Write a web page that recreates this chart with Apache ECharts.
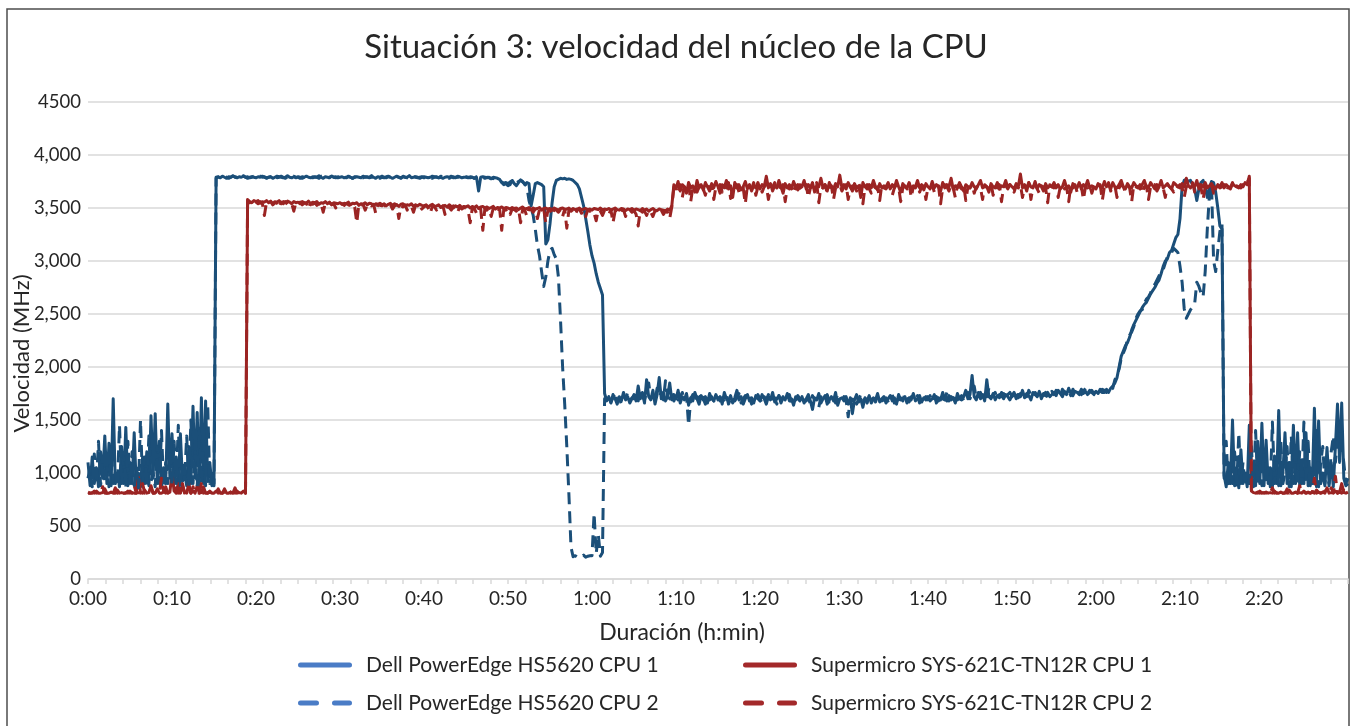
<!DOCTYPE html>
<html>
<head>
<meta charset="utf-8">
<script src="https://cdn.jsdelivr.net/npm/echarts@6/dist/echarts.min.js"></script>
<style>
  html, body { margin: 0; padding: 0; background: #fff; }
  #chart { width: 1352px; height: 726px; }
</style>
</head>
<body>
<div id="chart"></div>
<script>
// one sample every 15 s, x axis in minutes
const STEP = 0.25;

const xLabels = ['0:00', '0:10', '0:20', '0:30', '0:40', '0:50', '1:00', '1:10',
  '1:20', '1:30', '1:40', '1:50', '2:00', '2:10', '2:20'];
const yLabels = ['0', '500', '1,000', '1,500', '2,000', '2,500', '3,000', '3,500', '4,000', '4500'];

const seriesNames = [
  'Dell PowerEdge HS5620 CPU 1',
  'Supermicro SYS-621C-TN12R CPU 1',
  'Dell PowerEdge HS5620 CPU 2',
  'Supermicro SYS-621C-TN12R CPU 2'
];

const dellCpu1 = [
  1100, 880, 1150, 900, 1050, 870, 1200, 950, 1350, 900, 1280, 880, 1700, 900, 1000, 870, 1250, 900, 1430, 880,
  1100, 900, 1380, 880, 1000, 870, 1150, 900, 1200, 880, 1540, 950, 1560, 900, 1300, 870, 1050, 900, 1650, 950,
  1370, 900, 1150, 880, 1370, 920, 1000, 880, 1250, 900, 1630, 950, 1570, 880, 1710, 900, 1680, 920, 1100, 880,
  900, 3790, 3795, 3785, 3800, 3790, 3780, 3795, 3790, 3805, 3790, 3785, 3795, 3790, 3800, 3790, 3780, 3790, 3795, 3790,
  3785, 3795, 3790, 3800, 3790, 3785, 3790, 3795, 3780, 3790, 3800, 3795, 3790, 3785, 3790, 3805, 3790, 3785, 3795, 3790,
  3790, 3780, 3795, 3790, 3800, 3790, 3785, 3795, 3790, 3790, 3805, 3790, 3780, 3795, 3790, 3785, 3800, 3790, 3795, 3785,
  3790, 3795, 3785, 3790, 3800, 3790, 3780, 3790, 3795, 3790, 3785, 3800, 3790, 3795, 3785, 3790, 3790, 3780, 3795, 3790,
  3800, 3790, 3785, 3795, 3790, 3780, 3790, 3800, 3790, 3785, 3795, 3790, 3790, 3805, 3785, 3790, 3795, 3790, 3780, 3790,
  3795, 3790, 3785, 3790, 3800, 3790, 3795, 3785, 3790, 3780, 3790, 3795, 3790, 3800, 3785, 3790, 3790, 3795, 3785, 3790,
  3790, 3785, 3795, 3790, 3780, 3790, 3660, 3790, 3795, 3790, 3785, 3790, 3780, 3790, 3785, 3780, 3770, 3740, 3720, 3730,
  3710, 3720, 3760, 3730, 3710, 3740, 3765, 3750, 3720, 3740, 3730, 3520, 3620, 3730, 3740, 3730, 3720, 3700, 3160, 3200,
  3350, 3550, 3700, 3760, 3770, 3780, 3775, 3780, 3770, 3775, 3770, 3760, 3740, 3720, 3680, 3600, 3520, 3400, 3280, 3150,
  3050, 2980, 2880, 2800, 2740, 2680, 1750, 1680, 1720, 1660, 1740, 1700, 1650, 1720, 1680, 1760, 1690, 1720, 1660, 1700,
  1740, 1680, 1820, 1700, 1760, 1660, 1880, 1720, 1690, 1780, 1650, 1740, 1900, 1700, 1760, 1680, 1720, 1850, 1690, 1740,
  1700, 1780, 1660, 1720, 1690, 1750, 1640, 1710, 1680, 1760, 1700, 1650, 1730, 1690, 1720, 1660, 1750, 1700, 1680, 1740,
  1690, 1720, 1650, 1760, 1700, 1680, 1730, 1660, 1710, 1780, 1690, 1720, 1650, 1700, 1740, 1680, 1710, 1660, 1730, 1700,
  1680, 1740, 1700, 1650, 1720, 1690, 1760, 1670, 1700, 1730, 1660, 1710, 1690, 1750, 1680, 1700, 1640, 1720, 1700, 1680,
  1720, 1660, 1700, 1740, 1680, 1600, 1710, 1690, 1750, 1660, 1700, 1730, 1650, 1690, 1720, 1680, 1760, 1640, 1700, 1710,
  1680, 1720, 1650, 1700, 1560, 1690, 1740, 1670, 1700, 1620, 1710, 1680, 1730, 1660, 1700, 1690, 1750, 1670, 1700, 1720,
  1660, 1700, 1730, 1680, 1710, 1650, 1740, 1690, 1700, 1720, 1660, 1710, 1690, 1750, 1680, 1700, 1730, 1670, 1710, 1690,
  1720, 1680, 1700, 1740, 1660, 1710, 1690, 1760, 1700, 1680, 1730, 1690, 1710, 1660, 1750, 1700, 1690, 1720, 1780, 1700,
  1740, 1920, 1720, 1690, 1760, 1700, 1740, 1680, 1880, 1720, 1700, 1750, 1690, 1730, 1710, 1760, 1700, 1740, 1720, 1690,
  1730, 1760, 1700, 1740, 1720, 1780, 1710, 1750, 1730, 1690, 1760, 1740, 1720, 1770, 1700, 1750, 1730, 1760, 1720, 1740,
  1760, 1730, 1780, 1750, 1720, 1770, 1740, 1800, 1750, 1730, 1770, 1760, 1740, 1790, 1750, 1770, 1740, 1760, 1780, 1750,
  1770, 1750, 1790, 1760, 1760, 1790, 1760, 1800, 1820, 1850, 1900, 2000, 2100, 2150, 2200, 2230, 2280, 2350, 2400, 2440,
  2480, 2520, 2560, 2590, 2610, 2650, 2690, 2720, 2750, 2790, 2820, 2880, 2950, 3000, 3020, 3080, 3100, 3160, 3220, 3250,
  3400, 3700, 3760, 3770, 3750, 3760, 3720, 3680, 3570, 3680, 3740, 3760, 3700, 3600, 3680, 3750, 3740, 3650, 3500, 3330,
  3300, 980, 870, 1100, 900, 1500, 880, 1050, 860, 1220, 900, 1000, 870, 1450, 900, 1100, 880, 1300, 900, 1470,
  880, 1310, 900, 1050, 870, 1160, 900, 1590, 880, 1000, 1380, 900, 1100, 870, 1450, 900, 1380, 880, 1050, 900,
  1380, 880, 1050, 900, 1610, 870, 1490, 900, 1000, 880, 1240, 900, 1100, 870, 1250, 1650, 1100, 1660, 950, 880,
  900
];

const dellCpu2 = [
  950, 1050, 870, 1180, 900, 1300, 880, 1100, 920, 1050, 870, 1250, 900, 1000, 880, 1450, 900, 1150, 870, 1300,
  900, 1200, 880, 1050, 860, 1500, 900, 1150, 880, 1350, 920, 1000, 870, 1250, 900, 1400, 880, 1100, 900, 1200,
  880, 1300, 900, 1450, 870, 1100, 950, 1350, 880, 1500, 900, 1200, 870, 1420, 900, 1300, 880, 1650, 900, 1000,
  880, 3780, 3790, 3800, 3785, 3795, 3790, 3780, 3790, 3800, 3795, 3790, 3785, 3790, 3805, 3790, 3795, 3785, 3790, 3800,
  3790, 3785, 3800, 3790, 3795, 3780, 3790, 3795, 3790, 3805, 3785, 3790, 3800, 3790, 3780, 3795, 3790, 3790, 3800, 3785,
  3795, 3790, 3780, 3790, 3800, 3795, 3790, 3785, 3795, 3790, 3780, 3800, 3790, 3795, 3785, 3790, 3800, 3790, 3785, 3795,
  3790, 3800, 3790, 3785, 3795, 3790, 3780, 3795, 3790, 3800, 3790, 3785, 3795, 3790, 3790, 3805, 3785, 3790, 3795, 3780,
  3790, 3785, 3795, 3800, 3790, 3790, 3785, 3795, 3790, 3780, 3800, 3790, 3785, 3795, 3790, 3800, 3790, 3785, 3790, 3795,
  3785, 3790, 3800, 3790, 3780, 3795, 3790, 3785, 3800, 3790, 3795, 3790, 3780, 3790, 3795, 3785, 3800, 3790, 3790, 3785,
  3795, 3790, 3785, 3790, 3780, 3795, 3790, 3785, 3790, 3780, 3790, 3785, 3775, 3780, 3770, 3760, 3750, 3745, 3735, 3740,
  3730, 3745, 3760, 3740, 3735, 3750, 3760, 3745, 3730, 3700, 3570, 3500, 3430, 3300, 3150, 3050, 2900, 2760, 2850, 3000,
  3100, 3120, 3060, 3020, 2850, 2450, 2000, 1650, 1250, 800, 300, 210, 220, 205, 215, 210, 225, 205, 215, 220,
  220, 620, 240, 420, 215, 250, 1700, 1690, 1740, 1670, 1710, 1760, 1680, 1700, 1650, 1730, 1700, 1760, 1680, 1710,
  1700, 1750, 1680, 1790, 1720, 1690, 1760, 1850, 1700, 1740, 1680, 1800, 1720, 1760, 1690, 1870, 1720, 1700, 1760, 1680,
  1740, 1690, 1720, 1760, 1680, 1730, 1450, 1700, 1740, 1670, 1720, 1690, 1760, 1700, 1650, 1730, 1690, 1720, 1680, 1710,
  1730, 1680, 1710, 1690, 1740, 1650, 1700, 1720, 1680, 1710, 1750, 1660, 1700, 1730, 1690, 1720, 1650, 1710, 1690, 1740,
  1700, 1660, 1720, 1690, 1740, 1680, 1700, 1710, 1650, 1730, 1690, 1720, 1670, 1700, 1740, 1660, 1710, 1690, 1730, 1700,
  1690, 1720, 1680, 1710, 1650, 1730, 1690, 1700, 1620, 1720, 1680, 1700, 1740, 1670, 1700, 1720, 1660, 1710, 1690, 1680,
  1720, 1690, 1530, 1710, 1680, 1720, 1650, 1700, 1740, 1680, 1700, 1660, 1720, 1690, 1710, 1670, 1730, 1700, 1680, 1690,
  1710, 1680, 1700, 1740, 1660, 1720, 1690, 1710, 1680, 1750, 1700, 1670, 1720, 1690, 1700, 1730, 1660, 1710, 1700, 1720,
  1690, 1730, 1670, 1710, 1720, 1680, 1740, 1700, 1690, 1760, 1680, 1720, 1700, 1740, 1690, 1710, 1730, 1680, 1740, 1760,
  1700, 1750, 1820, 1700, 1730, 1760, 1690, 1740, 1720, 1800, 1710, 1730, 1760, 1700, 1740, 1720, 1750, 1690, 1740, 1760,
  1720, 1740, 1770, 1710, 1750, 1730, 1760, 1720, 1780, 1740, 1710, 1760, 1730, 1750, 1790, 1730, 1760, 1710, 1750, 1770,
  1740, 1780, 1750, 1720, 1790, 1760, 1740, 1770, 1730, 1790, 1750, 1780, 1760, 1740, 1770, 1800, 1750, 1780, 1760, 1740,
  1780, 1760, 1750, 1790, 1780, 1760, 1800, 1780, 1800, 1880, 1920, 1980, 2080, 2130, 2180, 2260, 2300, 2330, 2380, 2460,
  2500, 2530, 2540, 2600, 2640, 2660, 2700, 2760, 2780, 2820, 2860, 2900, 2920, 2980, 3040, 3060, 3080, 3120, 3100, 3080,
  2950, 2800, 2550, 2460, 2500, 2540, 2570, 2600, 2800, 2760, 2700, 2660, 2900, 3300, 3620, 3720, 3000, 2900, 3100, 3280,
  3350, 950, 1300, 880, 1050, 900, 1200, 870, 1380, 900, 1100, 880, 1000, 900, 1250, 870, 1400, 900, 1100, 880,
  1200, 900, 1050, 870, 1480, 900, 1100, 880, 1300, 900, 1000, 1250, 870, 1350, 900, 1100, 880, 1200, 900, 1480,
  900, 1300, 880, 1000, 900, 1400, 870, 1100, 1250, 900, 1050, 880, 1200, 1350, 1100, 1300, 1450, 1250, 1100, 900,
  950
];

const smCpu1 = [
  810, 810, 815, 810, 830, 810, 810, 815, 850, 810, 810, 820, 810, 810, 840, 810, 815, 810, 810, 830,
  810, 815, 810, 810, 960, 820, 810, 840, 810, 815, 880, 810, 810, 850, 810, 810, 820, 870, 810, 820,
  1000, 830, 810, 900, 810, 880, 815, 810, 900, 810, 830, 810, 880, 810, 815, 870, 810, 810, 820, 810,
  810, 830, 810, 815, 810, 850, 810, 810, 820, 810, 860, 810, 815, 810, 830, 810, 3580, 3560, 3550, 3570,
  3560, 3570, 3545, 3560, 3555, 3570, 3550, 3565, 3540, 3560, 3555, 3570, 3545, 3560, 3550, 3565, 3555, 3540, 3560, 3550,
  3555, 3540, 3560, 3550, 3545, 3565, 3540, 3555, 3550, 3560, 3535, 3550, 3545, 3560, 3540, 3555, 3530, 3550, 3545, 3540,
  3550, 3535, 3545, 3540, 3555, 3530, 3545, 3540, 3550, 3525, 3540, 3535, 3550, 3530, 3545, 3540, 3520, 3540, 3535, 3545,
  3530, 3540, 3520, 3535, 3545, 3525, 3540, 3530, 3515, 3535, 3540, 3520, 3530, 3525, 3540, 3515, 3530, 3520, 3535, 3525,
  3520, 3530, 3510, 3525, 3535, 3515, 3520, 3530, 3505, 3520, 3525, 3510, 3530, 3515, 3500, 3520, 3510, 3525, 3505, 3515,
  3510, 3520, 3500, 3515, 3505, 3520, 3495, 3510, 3515, 3500, 3510, 3495, 3505, 3515, 3490, 3505, 3500, 3510, 3495, 3505,
  3500, 3490, 3505, 3495, 3500, 3485, 3500, 3510, 3490, 3495, 3505, 3485, 3500, 3490, 3495, 3505, 3480, 3495, 3500, 3490,
  3495, 3485, 3500, 3490, 3480, 3495, 3500, 3485, 3490, 3500, 3480, 3495, 3485, 3490, 3500, 3480, 3490, 3495, 3485, 3490,
  3480, 3495, 3490, 3485, 3500, 3480, 3490, 3485, 3495, 3480, 3490, 3500, 3485, 3480, 3495, 3490, 3475, 3490, 3485, 3495,
  3480, 3490, 3485, 3475, 3495, 3480, 3490, 3470, 3485, 3495, 3480, 3475, 3490, 3485, 3480, 3470, 3490, 3480, 3520, 3720,
  3680, 3750, 3660, 3720, 3700, 3640, 3740, 3690, 3710, 3650, 3760, 3690, 3720, 3670, 3740, 3700, 3660, 3730, 3690, 3750,
  3700, 3640, 3720, 3690, 3760, 3680, 3710, 3600, 3740, 3690, 3720, 3670, 3700, 3750, 3680, 3720, 3660, 3710, 3690, 3740,
  3680, 3720, 3700, 3800, 3690, 3730, 3660, 3710, 3690, 3760, 3700, 3640, 3730, 3690, 3720, 3680, 3750, 3700, 3670, 3720,
  3700, 3760, 3680, 3720, 3690, 3740, 3650, 3710, 3700, 3780, 3690, 3720, 3660, 3740, 3700, 3680, 3730, 3700, 3810, 3690,
  3720, 3680, 3740, 3700, 3660, 3730, 3690, 3710, 3600, 3740, 3700, 3680, 3720, 3690, 3760, 3700, 3670, 3730, 3690, 3710,
  3700, 3740, 3680, 3720, 3690, 3760, 3700, 3650, 3730, 3700, 3690, 3740, 3680, 3710, 3700, 3760, 3690, 3720, 3670, 3730,
  3700, 3680, 3750, 3690, 3720, 3700, 3660, 3740, 3690, 3720, 3700, 3780, 3680, 3710, 3690, 3740, 3700, 3660, 3720, 3700,
  3690, 3740, 3700, 3680, 3720, 3760, 3690, 3710, 3700, 3650, 3730, 3700, 3690, 3740, 3680, 3710, 3700, 3760, 3690, 3720,
  3700, 3680, 3730, 3700, 3820, 3690, 3720, 3660, 3740, 3700, 3690, 3750, 3680, 3720, 3700, 3660, 3730, 3690, 3710, 3700,
  3740, 3690, 3720, 3680, 3700, 3760, 3690, 3710, 3650, 3730, 3700, 3690, 3740, 3680, 3720, 3700, 3760, 3690, 3710, 3700,
  3680, 3730, 3700, 3690, 3750, 3700, 3720, 3680, 3740, 3700, 3690, 3720, 3760, 3700, 3680, 3730, 3700, 3690, 3740, 3710,
  3700, 3680, 3720, 3760, 3700, 3690, 3740, 3710, 3680, 3720, 3700, 3760, 3690, 3710, 3730, 3700, 3680, 3740, 3720, 3700,
  3690, 3730, 3700, 3780, 3710, 3690, 3720, 3700, 3760, 3680, 3720, 3700, 3740, 3690, 3710, 3730, 3700, 3680, 3720, 3700,
  3740, 3690, 3720, 3700, 3680, 3730, 3710, 3700, 3690, 3720, 3700, 3740, 3720, 3800, 830, 815, 810, 820, 810, 815,
  810, 820, 810, 815, 810, 830, 810, 810, 820, 810, 815, 810, 840, 810, 810, 820, 810, 815, 810, 830,
  810, 815, 810, 820, 810, 840, 815, 810, 820, 810, 860, 810, 815, 810, 830, 810, 820, 900, 815, 810,
  820
];

const smCpu2 = [
  820, 810, 810, 830, 810, 815, 810, 870, 810, 810, 825, 810, 810, 860, 810, 810, 830, 810, 815, 810,
  830, 810, 880, 810, 815, 810, 900, 810, 820, 810, 860, 810, 815, 820, 810, 950, 830, 810, 815, 810,
  820, 810, 860, 810, 815, 900, 810, 810, 840, 810, 870, 810, 815, 810, 900, 810, 815, 810, 830, 810,
  815, 810, 850, 810, 810, 820, 810, 840, 810, 815, 810, 830, 810, 810, 820, 810, 3570, 3550, 3565, 3545,
  3555, 3540, 3560, 3545, 3430, 3555, 3540, 3560, 3530, 3550, 3545, 3500, 3555, 3540, 3560, 3535, 3550, 3545, 3470, 3550,
  3540, 3555, 3530, 3545, 3550, 3490, 3540, 3535, 3550, 3525, 3545, 3540, 3460, 3545, 3530, 3550, 3535, 3540, 3500, 3545,
  3535, 3540, 3525, 3545, 3530, 3520, 3540, 3510, 3360, 3540, 3525, 3535, 3480, 3530, 3540, 3520, 3535, 3450, 3530, 3525,
  3520, 3535, 3500, 3525, 3530, 3490, 3520, 3530, 3400, 3520, 3510, 3530, 3480, 3520, 3515, 3460, 3525, 3510, 3520, 3490,
  3510, 3525, 3500, 3450, 3520, 3510, 3480, 3515, 3500, 3520, 3440, 3510, 3505, 3480, 3520, 3500, 3460, 3510, 3490, 3505,
  3500, 3480, 3360, 3500, 3495, 3450, 3505, 3490, 3290, 3500, 3480, 3495, 3420, 3500, 3490, 3460, 3495, 3290, 3490, 3480,
  3495, 3440, 3490, 3485, 3470, 3495, 3360, 3490, 3480, 3420, 3495, 3485, 3460, 3490, 3400, 3485, 3470, 3490, 3360, 3480,
  3485, 3430, 3490, 3480, 3460, 3485, 3420, 3490, 3310, 3480, 3470, 3485, 3440, 3480, 3490, 3450, 3480, 3420, 3485, 3470,
  3480, 3450, 3380, 3485, 3470, 3430, 3480, 3475, 3440, 3485, 3360, 3470, 3480, 3450, 3475, 3485, 3420, 3470, 3480, 3460,
  3475, 3440, 3330, 3480, 3460, 3470, 3430, 3480, 3460, 3420, 3475, 3470, 3450, 3480, 3440, 3470, 3460, 3400, 3510, 3700,
  3700, 3660, 3720, 3600, 3700, 3680, 3730, 3560, 3690, 3710, 3650, 3700, 3740, 3680, 3620, 3710, 3690, 3720, 3580, 3700,
  3680, 3720, 3650, 3700, 3690, 3740, 3590, 3700, 3680, 3720, 3650, 3700, 3690, 3540, 3710, 3700, 3680, 3740, 3620, 3700,
  3710, 3650, 3700, 3720, 3580, 3690, 3700, 3740, 3660, 3700, 3690, 3720, 3560, 3700, 3680, 3710, 3640, 3700, 3720, 3690,
  3660, 3700, 3720, 3600, 3690, 3710, 3680, 3740, 3550, 3700, 3690, 3720, 3640, 3700, 3710, 3580, 3690, 3700, 3720, 3660,
  3700, 3720, 3580, 3690, 3710, 3700, 3660, 3730, 3690, 3540, 3700, 3720, 3680, 3640, 3710, 3690, 3700, 3570, 3720, 3690,
  3680, 3710, 3700, 3620, 3690, 3720, 3700, 3560, 3690, 3710, 3680, 3740, 3600, 3700, 3690, 3720, 3650, 3700, 3710, 3580,
  3700, 3690, 3720, 3650, 3700, 3710, 3540, 3690, 3720, 3700, 3660, 3730, 3690, 3600, 3710, 3700, 3680, 3720, 3570, 3700,
  3690, 3720, 3640, 3700, 3710, 3690, 3580, 3720, 3700, 3680, 3740, 3620, 3700, 3690, 3720, 3560, 3700, 3710, 3680, 3720,
  3700, 3650, 3710, 3690, 3720, 3600, 3700, 3690, 3740, 3580, 3700, 3720, 3680, 3640, 3710, 3700, 3690, 3550, 3720, 3700,
  3690, 3710, 3600, 3700, 3720, 3680, 3700, 3560, 3710, 3690, 3720, 3650, 3700, 3710, 3580, 3700, 3690, 3720, 3640, 3700,
  3710, 3690, 3720, 3570, 3700, 3690, 3740, 3660, 3700, 3710, 3600, 3690, 3720, 3700, 3650, 3710, 3690, 3560, 3720, 3700,
  3690, 3720, 3640, 3700, 3710, 3580, 3700, 3690, 3720, 3660, 3700, 3710, 3690, 3600, 3720, 3700, 3680, 3650, 3710, 3700,
  3720, 3690, 3600, 3700, 3710, 3690, 3740, 3650, 3700, 3720, 3690, 3580, 3700, 3710, 3680, 3720, 3640, 3700, 3710, 3690,
  3700, 3720, 3660, 3700, 3690, 3740, 3680, 3710, 3700, 3690, 3720, 3700, 3740, 3780, 820, 810, 815, 810, 830, 810,
  815, 810, 820, 810, 860, 810, 815, 810, 830, 810, 810, 850, 810, 815, 810, 820, 810, 880, 810, 815,
  810, 820, 810, 815, 950, 810, 820, 810, 815, 830, 810, 810, 860, 815, 970, 810, 820, 810, 840, 810,
  815
];

const FONT = 'Lato, "Noto Sans", sans-serif';
const TEXT = '#262626';
const AXIS_GREY = '#d9d9d9';
const DELL_LINE = '#1b4f79';
const SM_LINE = '#9b2423';
const DELL_KEY = '#4a7cc6';
const SM_KEY = '#a3292a';

// legend keys: a rounded bar, or two rounded dashes
const KEY_SOLID = 'path://M2.5,0H51.5A2.5,2.5 0 0 1 51.5,5H2.5A2.5,2.5 0 0 1 2.5,0Z';
const KEY_DASHED = 'path://M2.5,0H18.5A2.5,2.5 0 0 1 18.5,5H2.5A2.5,2.5 0 0 1 2.5,0Z' +
  'M36.5,0H51.5A2.5,2.5 0 0 1 51.5,5H36.5A2.5,2.5 0 0 1 36.5,0Z';

const toPoints = values => values.map((v, i) => [i * STEP, v]);

const chart = echarts.init(document.getElementById('chart'), null, { renderer: 'canvas' });

function lineSeries(name, values, color, dashed) {
  return {
    type: 'line',
    name: name,
    data: toPoints(values),
    showSymbol: false,
    symbol: 'none',
    color: color,
    lineStyle: {
      color: color,
      width: 3,
      type: dashed ? [12, 7] : 'solid',
      join: 'round'
    },
    emphasis: { disabled: true }
  };
}

function legendItem(name, color, dashed) {
  return {
    name: name,
    icon: dashed ? KEY_DASHED : KEY_SOLID,
    itemStyle: { color: color }
  };
}

const legendBase = {
  orient: 'vertical',
  top: 653,
  padding: 0,
  itemWidth: 54,
  itemHeight: 5,
  itemGap: 14,
  selectedMode: false,
  textStyle: { fontFamily: FONT, fontSize: 21, lineHeight: 24, color: TEXT, padding: [0, 0, 0, 9] }
};

chart.setOption({
  animation: false,
  backgroundColor: '#fff',
  title: {
    text: 'Situación 3: velocidad del núcleo de la CPU',
    left: 'center',
    top: 26,
    textStyle: { fontFamily: FONT, fontSize: 33, fontWeight: 'normal', color: TEXT }
  },
  graphic: [{
    type: 'rect',
    silent: true,
    shape: { x: 7, y: 9, width: 1342, height: 740 },
    style: { fill: null, stroke: '#4d4d4d', lineWidth: 1.5 }
  }],
  legend: [
    Object.assign({}, legendBase, {
      left: 298,
      data: [legendItem(seriesNames[0], DELL_KEY, false), legendItem(seriesNames[2], DELL_KEY, true)]
    }),
    Object.assign({}, legendBase, {
      left: 743,
      data: [legendItem(seriesNames[1], SM_KEY, false), legendItem(seriesNames[3], SM_KEY, true)]
    })
  ],
  grid: { left: 88, right: 4, top: 102, bottom: 147, outerBoundsMode: 'none' },
  xAxis: [{
    type: 'value',
    min: 0,
    max: 150,
    interval: 10,
    name: 'Duración (h:min)',
    nameLocation: 'middle',
    nameGap: 42,
    nameTextStyle: { fontFamily: FONT, fontSize: 23, color: TEXT, padding: [0, 72, 0, 0] },
    axisLine: { lineStyle: { color: AXIS_GREY, width: 1.5 } },
    axisTick: { show: false },
    splitLine: { show: false },
    axisLabel: {
      fontFamily: FONT, fontSize: 19, color: TEXT, margin: 10,
      formatter: v => xLabels[Math.round(v / 10)] || ''
    }
  }, {
    // minor tick marks, every 125 s
    type: 'value',
    min: 0,
    max: 150,
    interval: 125 / 60,
    position: 'bottom',
    axisLine: { show: false },
    axisTick: { show: true, length: 5, lineStyle: { color: AXIS_GREY, width: 1.5 } },
    axisLabel: { show: false },
    splitLine: { show: false }
  }],
  yAxis: {
    type: 'value',
    min: 0,
    max: 4500,
    interval: 500,
    name: 'Velocidad (MHz)',
    nameLocation: 'middle',
    nameGap: 55,
    nameMoveOverlap: false,
    nameTextStyle: { fontFamily: FONT, fontSize: 22, color: TEXT, padding: [0, 26, 0, 0] },
    axisLine: { show: false },
    axisTick: { show: false },
    splitLine: { lineStyle: { color: AXIS_GREY, width: 1.5 } },
    axisLabel: {
      fontFamily: FONT, fontSize: 18.5, color: TEXT, margin: 7,
      formatter: v => yLabels[Math.round(v / 500)]
    }
  },
  series: [
    lineSeries(seriesNames[0], dellCpu1, DELL_LINE, false),
    lineSeries(seriesNames[1], smCpu1, SM_LINE, false),
    lineSeries(seriesNames[2], dellCpu2, DELL_LINE, true),
    lineSeries(seriesNames[3], smCpu2, SM_LINE, true)
  ]
});

window.addEventListener('resize', () => chart.resize());
</script>
</body>
</html>
